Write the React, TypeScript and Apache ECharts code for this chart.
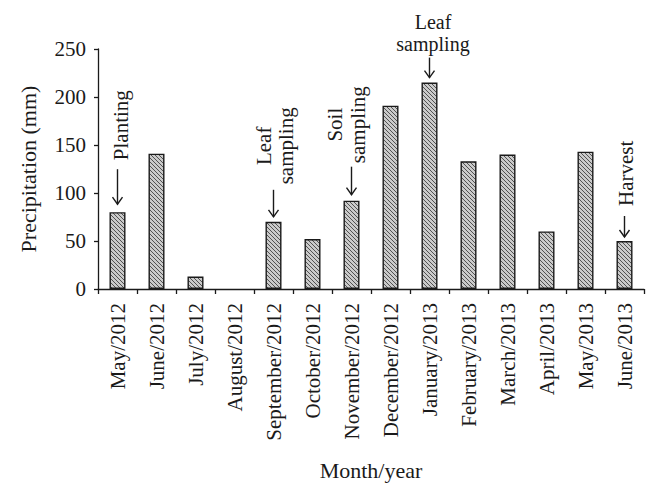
import React, { useEffect, useRef } from "react";
import * as echarts from "echarts";

const categories = [
  "May/2012", "June/2012", "July/2012", "August/2012", "September/2012",
  "October/2012", "November/2012", "December/2012", "January/2013",
  "February/2013", "March/2013", "April/2013", "May/2013", "June/2013",
];
const precipitation = [80, 141, 13, 0, 70, 52, 92, 191, 215, 133, 140, 60, 143, 50];
const yMin = 0;
const yMax = 250;
const yInterval = 50;
const yAxisName = "Precipitation (mm)";
const xAxisName = "Month/year";
const annotationMonths = ["May/2012", "September/2012", "November/2012", "January/2013", "June/2013"];
const annotationLabels = ["Planting", "Leaf\nsampling", "Soil\nsampling", "Leaf\nsampling", "Harvest"];

const FONT = '"Liberation Serif", "Times New Roman", serif';
const INK = "#1a1a1a";

function makeHatch(): HTMLCanvasElement {
  const c = document.createElement("canvas");
  c.width = 4;
  c.height = 4;
  const g = c.getContext("2d")!;
  g.fillStyle = "#cacaca";
  g.fillRect(0, 0, 4, 4);
  g.strokeStyle = "#444444";
  g.lineWidth = 0.9;
  g.beginPath();
  g.moveTo(-1, -1); g.lineTo(5, 5);
  g.moveTo(-1, 3); g.lineTo(1, 5);
  g.moveTo(3, -1); g.lineTo(5, 1);
  g.stroke();
  return c;
}

// layout of each annotation relative to the bar top
const annotationLayout: Array<{ dx: number; dy: number; a0: number; a1: number; mode: string; lh: number; fs: number }> = [
  { dx: 3, dy: -52, a0: -43, a1: -8, mode: "rotStart", lh: 21, fs: 21 },
  { dx: 1.5, dy: -76, a0: -32, a1: -5, mode: "rotCenter", lh: 22, fs: 21 },
  { dx: -5, dy: -76, a0: -34, a1: -6, mode: "rotCenter", lh: 23, fs: 21 },
  { dx: 3.5, dy: -50, a0: -25, a1: -5, mode: "horiz", lh: 22, fs: 20 },
  { dx: 1, dy: -35, a0: -25, a1: -4, mode: "rotStart", lh: 21, fs: 21 },
];

export default function App() {
  const ref = useRef<HTMLDivElement>(null);
  useEffect(() => {
    if (!ref.current) return;
    const chart = echarts.init(ref.current, undefined, { renderer: "svg" });
    const hatch = makeHatch();
    chart.setOption({
      animation: false,
      backgroundColor: "#ffffff",
      grid: { left: 98, right: 14, top: 49, bottom: 210, containLabel: false },
      xAxis: {
        type: "category",
        data: categories,
        name: xAxisName,
        nameLocation: "middle",
        nameGap: 170,
        nameTextStyle: { fontFamily: FONT, fontSize: 22, color: INK },
        axisLine: { show: true, lineStyle: { color: INK, width: 1.3 } },
        axisTick: { show: true, length: 5, alignWithLabel: false, lineStyle: { color: INK, width: 1.3 } },
        axisLabel: { interval: 0, rotate: 90, margin: 14, fontFamily: FONT, fontSize: 21, color: INK },
        splitLine: { show: false },
      },
      yAxis: {
        type: "value",
        min: yMin,
        max: yMax,
        interval: yInterval,
        name: yAxisName,
        nameLocation: "middle",
        nameGap: 59,
        nameRotate: 90,
        nameTextStyle: { fontFamily: FONT, fontSize: 22, color: INK },
        axisLine: { show: true, lineStyle: { color: INK, width: 1.3 } },
        axisTick: { show: true, length: 4, lineStyle: { color: INK, width: 1.3 } },
        axisLabel: { margin: 12, fontFamily: FONT, fontSize: 21, color: INK },
        splitLine: { show: false },
      },
      series: [
        {
          type: "bar",
          data: precipitation.map((v) => (v === 0 ? { value: v, itemStyle: { borderWidth: 0 } } : v)),
          barWidth: 16,
          itemStyle: {
            color: { image: hatch, repeat: "repeat" },
            borderColor: INK,
            borderWidth: 1.4,
          },
        },
      ],
    });

    const elements: any[] = [];
    annotationMonths.forEach((m, i) => {
      const idx = categories.indexOf(m);
      const [cx, ty] = chart.convertToPixel({ seriesIndex: 0 }, [idx, precipitation[idx]]) as number[];
      const L = annotationLayout[i];
      const yTop = ty + L.a0;
      const yTip = ty + L.a1;
      elements.push({
        type: "line",
        shape: { x1: cx, y1: yTop, x2: cx, y2: yTip },
        style: { stroke: INK, lineWidth: 1.4 },
      });
      elements.push({
        type: "polyline",
        shape: { points: [[cx - 5, yTip - 7], [cx, yTip], [cx + 5, yTip - 7]] },
        style: { stroke: INK, lineWidth: 1.4, fill: null },
      });
      const base: any = {
        type: "text",
        x: cx + L.dx,
        y: ty + L.dy,
        style: {
          text: annotationLabels[i],
          font: `${L.fs}px ${FONT}`,
          fill: INK,
          lineHeight: L.lh,
        },
      };
      if (L.mode === "rotStart") {
        base.rotation = Math.PI / 2;
        base.style.align = "left";
        base.style.verticalAlign = "middle";
      } else if (L.mode === "rotCenter") {
        base.rotation = Math.PI / 2;
        base.style.align = "center";
        base.style.verticalAlign = "middle";
      } else {
        base.style.align = "center";
        base.style.verticalAlign = "middle";
      }
      elements.push(base);
    });
    chart.setOption({ graphic: { elements } });

    return () => chart.dispose();
  }, []);
  return <div ref={ref} style={{ width: 658, height: 499, position: "absolute", left: 0, top: 0 }} />;
}
